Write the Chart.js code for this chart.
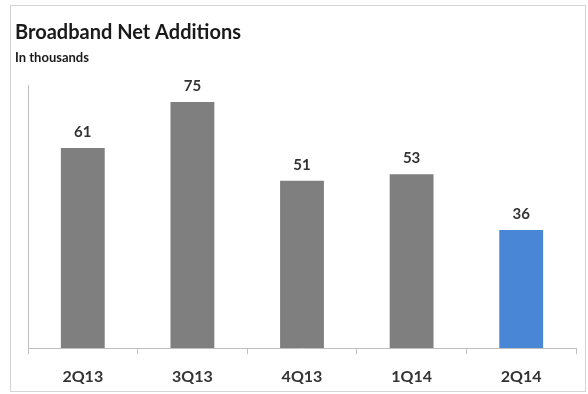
<!DOCTYPE html>
<html>
<head>
<meta charset="utf-8">
<script src="https://cdn.jsdelivr.net/npm/chart.js@4"></script>
<style>
  html, body { margin: 0; padding: 0; background: #fff; }
  #wrap { position: relative; width: 588px; height: 394px; }
  #frame { position: absolute; left: 10px; top: 5px; width: 576px; height: 387px; border: 1px solid #d4d4d4; box-sizing: border-box; }
  canvas { position: absolute; left: 0; top: 0; }
</style>
</head>
<body>
<div id="wrap">
  <div id="frame"></div>
  <canvas id="bbChart" width="588" height="394"></canvas>
</div>
<script>
// Broadband net adds by quarter (thousands)
const quarters = ['2Q13', '3Q13', '4Q13', '1Q14', '2Q14'];
const netAdds = [61, 75, 51, 53, 36];
const barColors = ['#7f7f7f', '#7f7f7f', '#7f7f7f', '#7f7f7f', '#4a86d6'];

const FONT = 'Lato, "Open Sans", sans-serif';

// value labels over each bar
const valueLabels = {
  id: 'valueLabels',
  afterDatasetsDraw(chart) {
    const ctx = chart.ctx;
    const meta = chart.getDatasetMeta(0);
    ctx.save();
    ctx.font = 'bold 15px ' + FONT;
    ctx.fillStyle = '#333';
    ctx.textAlign = 'center';
    ctx.textBaseline = 'middle';
    meta.data.forEach((bar, i) => {
      ctx.fillText(String(netAdds[i]), bar.x, bar.y - 16);
    });
    ctx.restore();
  }
};

new Chart(document.getElementById('bbChart'), {
  type: 'bar',
  data: {
    labels: quarters,
    datasets: [{
      data: netAdds,
      backgroundColor: barColors,
      barPercentage: 0.8,
      categoryPercentage: 0.5
    }]
  },
  options: {
    responsive: false,
    animation: false,
    layout: { padding: { left: 15, right: 12, top: 0, bottom: 0 } },
    plugins: {
      legend: { display: false },
      tooltip: { enabled: false },
      title: {
        display: true,
        text: 'Broadband Net Additions',
        align: 'start',
        color: '#1a1a1a',
        font: { family: FONT, size: 20, weight: 'bold', lineHeight: 1.2 },
        padding: { top: 21, bottom: 3 }
      },
      subtitle: {
        display: true,
        text: 'In thousands',
        align: 'start',
        color: '#1a1a1a',
        font: { family: FONT, size: 13, weight: 'bold', lineHeight: 1.2 },
        padding: { top: 2, bottom: 20 }
      }
    },
    scales: {
      x: {
        grid: { display: true, drawOnChartArea: false, drawTicks: true, tickLength: 6, color: '#bfbfbf', offset: true },
        border: { display: true, color: '#bfbfbf', width: 1 },
        ticks: { color: '#333', font: { family: FONT, size: 16, weight: 'bold' }, padding: 13 },
        afterFit(scale) { scale.height = 46; }
      },
      y: {
        min: 0,
        max: 80,
        grid: { display: false },
        border: { display: true, color: '#bfbfbf', width: 1 },
        ticks: { display: false },
        afterFit(scale) { scale.width = 13; }
      }
    }
  },
  plugins: [valueLabels]
});
</script>
</body>
</html>
